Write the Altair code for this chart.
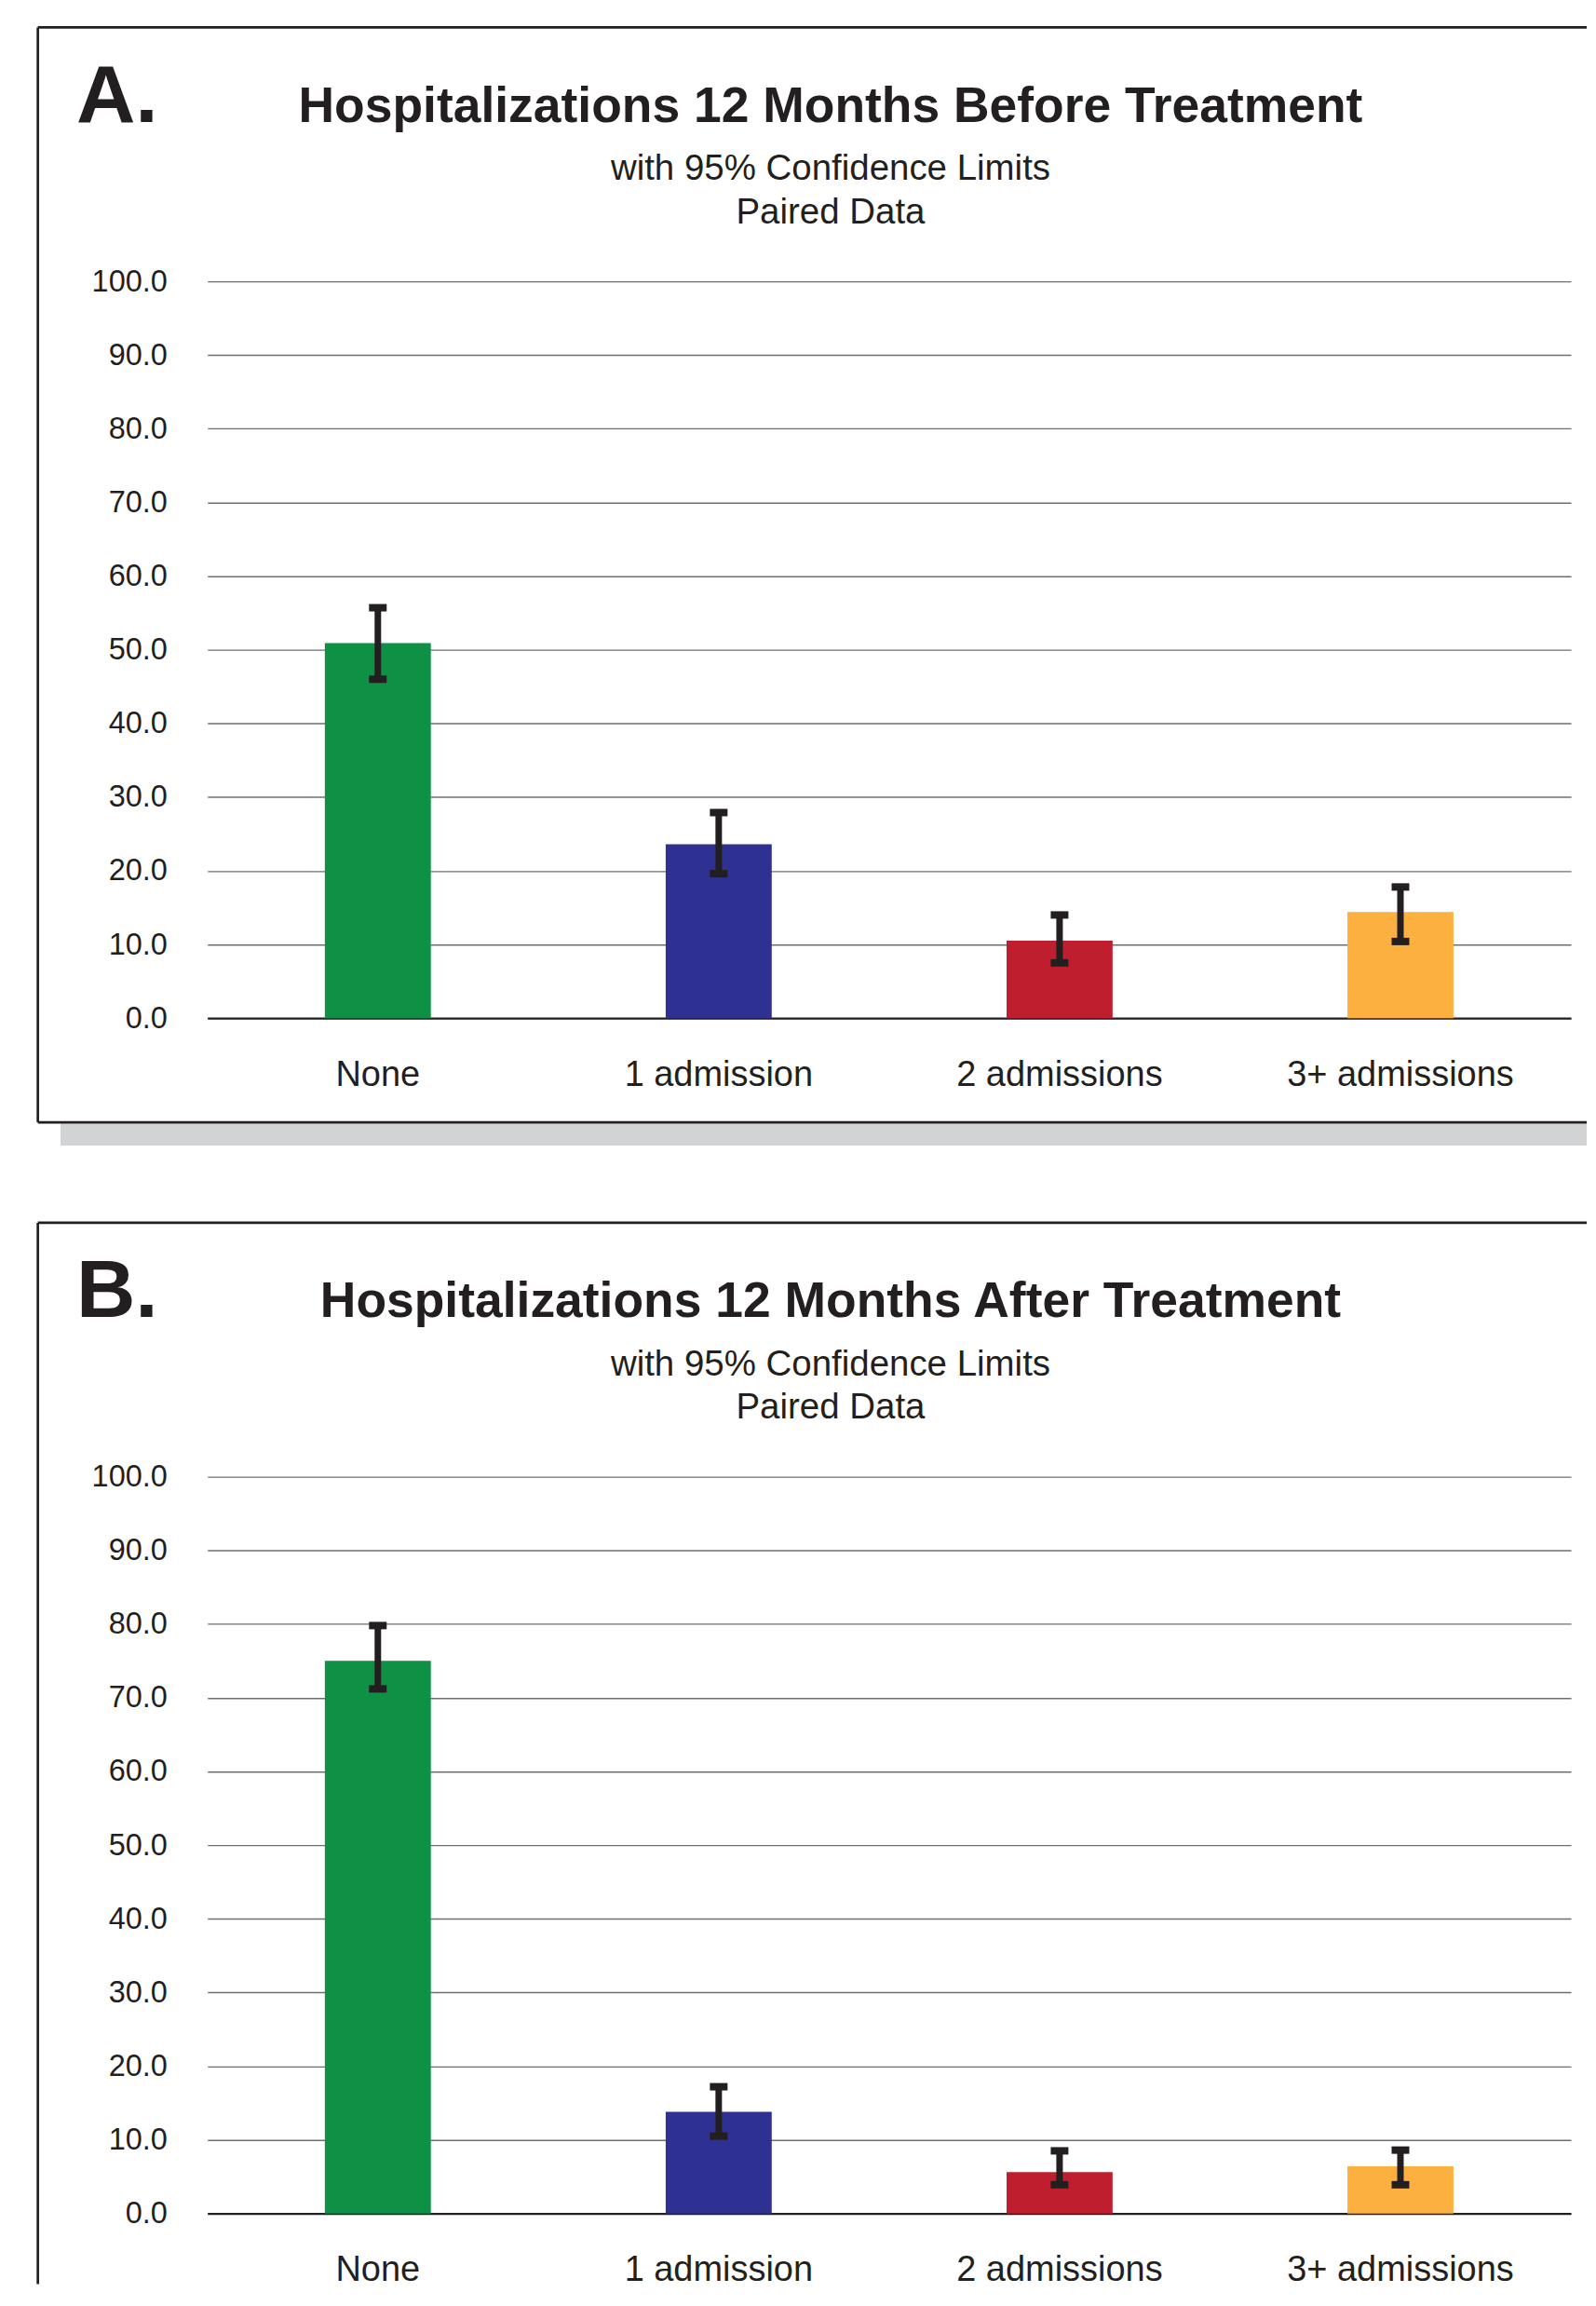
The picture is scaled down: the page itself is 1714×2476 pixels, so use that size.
import altair as alt
import pandas as pd

categories = ["None", "1 admission", "2 admissions", "3+ admissions"]
colors = ["#0E9144", "#2E3192", "#BE1E2D", "#FBB040"]

before_vals = [50.9, 23.6, 10.5, 14.4]
before_lo = [46.0, 19.6, 7.5, 10.4]
before_hi = [55.7, 27.9, 14.0, 17.8]

after_vals = [75.0, 13.8, 5.6, 6.4]
after_lo = [71.2, 10.5, 3.9, 3.9]
after_hi = [79.8, 17.2, 8.5, 8.6]

y_ticks = [0, 10, 20, 30, 40, 50, 60, 70, 80, 90, 100]

letters = ["A.", "B."]
titles = ["Hospitalizations 12 Months Before Treatment",
          "Hospitalizations 12 Months After Treatment"]
subtitle1 = "with 95% Confidence Limits"
subtitle2 = "Paired Data"

FONT = "Liberation Sans"
INK = "#231F20"
W, H = 1466, 792


def panel(letter, title, vals, lo, hi, first):
    df = pd.DataFrame({"cat": categories, "val": vals, "lo": lo, "hi": hi})
    base = alt.Chart(df)
    xs = alt.Scale(paddingInner=0, paddingOuter=0)
    ys = alt.Scale(domain=[0, 100], nice=False)
    x_axis = alt.Axis(labelAngle=0, labelFontSize=38, labelFont=FONT,
                      labelColor=INK, labelBaseline="alphabetic",
                      labelPadding=72, labelLimit=0, ticks=False, tickSize=0,
                      domainColor=INK, domainWidth=2.2, title=None, grid=False)
    y_axis = alt.Axis(values=y_ticks, format=".1f", labelFontSize=32.5,
                      labelFont=FONT, labelColor=INK, labelPadding=43.5,
                      labelLimit=0, ticks=False, tickSize=0, domain=False,
                      gridColor="#6D6E71", gridWidth=1.4, gridOpacity=1,
                      title=None)

    def xenc():
        return alt.X("cat:N", sort=categories, scale=xs, axis=x_axis, title=None)

    def yenc(field):
        return alt.Y(field, scale=ys, axis=y_axis, title=None)

    bars = base.mark_bar(size=114).encode(
        x=xenc(),
        y=yenc("val:Q"),
        color=alt.Color("cat:N", sort=categories,
                        scale=alt.Scale(domain=categories, range=colors),
                        legend=None),
    )
    rule = base.mark_rule(strokeWidth=7, color=INK).encode(
        x=xenc(), y=yenc("lo:Q"), y2="hi:Q",
    )
    cap_lo = base.mark_tick(size=19, thickness=8, color=INK, opacity=1).encode(
        x=xenc(), y=yenc("lo:Q"),
    )
    cap_hi = base.mark_tick(size=19, thickness=8, color=INK, opacity=1).encode(
        x=xenc(), y=yenc("hi:Q"),
    )

    one = alt.Chart(pd.DataFrame({"k": [0]}))
    frame_left = -182.3
    right_end = 1483
    top_y = -273
    bottom_y = 904 if first else 868

    layers = []
    if first:
        layers.append(one.mark_rect(color="#D1D3D4").encode(
            x=alt.value(-158), x2=alt.value(right_end),
            y=alt.value(905.5), y2=alt.value(929)))
    layers.append(one.mark_rule(color=INK, strokeWidth=2.7).encode(
        x=alt.value(frame_left), x2=alt.value(right_end),
        y=alt.value(top_y), y2=alt.value(top_y)))
    layers.append(one.mark_rule(color=INK, strokeWidth=2.7).encode(
        x=alt.value(frame_left), x2=alt.value(frame_left),
        y=alt.value(top_y), y2=alt.value(bottom_y)))
    if first:
        layers.append(one.mark_rule(color=INK, strokeWidth=2.7).encode(
            x=alt.value(frame_left), x2=alt.value(right_end),
            y=alt.value(bottom_y), y2=alt.value(bottom_y)))

    letter_t = alt.Chart(pd.DataFrame({"t": [letter]})).mark_text(
        align="left", baseline="alphabetic", font=FONT, fontSize=88,
        fontWeight="bold", color=INK).encode(
        text="t:N", x=alt.value(-141), y=alt.value(-171.5))
    title_t = alt.Chart(pd.DataFrame({"t": [title]})).mark_text(
        align="center", baseline="alphabetic", font=FONT, fontSize=53.5,
        fontWeight="bold", color=INK).encode(
        text="t:N", x=alt.value(670), y=alt.value(-171.5))
    sub1 = alt.Chart(pd.DataFrame({"t": [subtitle1]})).mark_text(
        align="center", baseline="alphabetic", font=FONT, fontSize=38.5,
        color=INK).encode(text="t:N", x=alt.value(670), y=alt.value(-109))
    sub2 = alt.Chart(pd.DataFrame({"t": [subtitle2]})).mark_text(
        align="center", baseline="alphabetic", font=FONT, fontSize=38.5,
        color=INK).encode(text="t:N", x=alt.value(670), y=alt.value(-62.5))

    return alt.layer(bars, rule, cap_lo, cap_hi, *layers,
                     letter_t, title_t, sub1, sub2).properties(width=W, height=H)


pa = panel(letters[0], titles[0], before_vals, before_lo, before_hi, True)
pb = panel(letters[1], titles[1], after_vals, after_lo, after_hi, False)

chart = alt.vconcat(pa, pb, spacing=493, bounds="flush").properties(
    padding={"left": 31, "top": 18, "right": 0, "bottom": 0},
    background="white",
).configure_view(stroke=None)

chart.save("out.html", embed_options={"renderer": "svg", "actions": False})
